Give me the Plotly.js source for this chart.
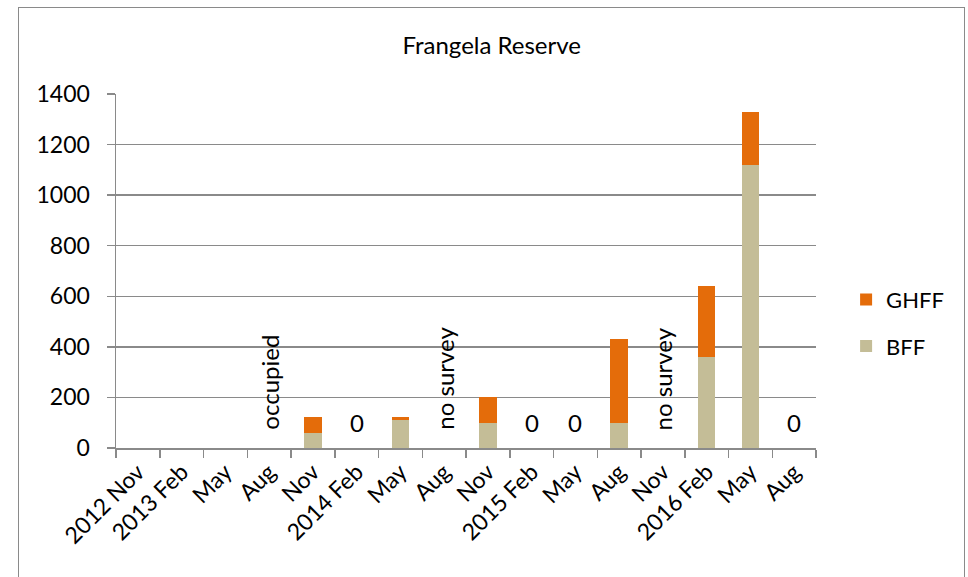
<!DOCTYPE html>
<html>
<head>
<meta charset="utf-8">
<script src="https://cdn.plot.ly/plotly-3.0.1.min.js"></script>
<style>
  html, body { margin: 0; padding: 0; background: #fff; }
  #chart { width: 968px; height: 577px; }
  #frame { position: absolute; left: 18px; top: 7px; width: 945px; height: 620px;
           border: 1.5px solid #8a8a8a; pointer-events: none; }
</style>
</head>
<body>
<div id="chart"></div>
<div id="frame"></div>
<script>
const categories = ['2012 Nov','2013 Feb','2013 May','2013 Aug','2013 Nov','2014 Feb','2014 May','2014 Aug',
                    '2014 Nov','2015 Feb','2015 May','2015 Aug','2015 Nov','2016 Feb','2016 May','2016 Aug'];
const tickLabels = ['2012 Nov','2013 Feb','May','Aug','Nov','2014 Feb','May','Aug',
                    'Nov','2015 Feb','May','Aug','Nov','2016 Feb','May','Aug'];
const bffValues  = [null, null, null, null, 60, 0, 112, null, 98, 0, 0, 98, null, 358, 1118, 0];
const ghffValues = [null, null, null, null, 62, 0, 12, null, 102, 0, 0, 332, null, 282, 212, 0];
const noteCats  = ['2013 Aug','2014 Feb','2014 Aug','2015 Feb','2015 May','2015 Nov','2016 Aug'];
const noteTexts = ['occupied','0','no survey','0','0','no survey','0'];
const yTicks = [0, 200, 400, 600, 800, 1000, 1200, 1400];

const FONT = 'Lato, "Open Sans", sans-serif';

const traces = [
  { type: 'bar', name: 'BFF', x: categories, y: bffValues, legendrank: 2, legendgroup: 'bff',
    marker: { color: '#c4bd97' } },
  { type: 'bar', name: 'GHFF', x: categories, y: ghffValues, legendrank: 1, legendgroup: 'ghff',
    marker: { color: '#e46c0a' } }
];

const annotations = noteCats.map((c, i) => {
  const rotated = noteTexts[i].length > 1;
  return {
    x: c, y: 0, xref: 'x', yref: 'y', text: noteTexts[i], showarrow: false,
    textangle: rotated ? -90 : 0,
    yanchor: rotated ? 'bottom' : 'middle',
    yshift: rotated ? 16 : 26,
    font: { family: FONT, size: 24, color: '#000' }
  };
});

const layout = {
  width: 968, height: 577,
  margin: { l: 115.6, r: 152, t: 94, b: 129.3, pad: 0 },
  paper_bgcolor: '#fff', plot_bgcolor: '#fff',
  barmode: 'stack', bargap: 0.6,
  showlegend: true,
  title: { text: 'Frangela Reserve', xref: 'container', yref: 'container',
           x: 0.508, y: 1 - 46/577, xanchor: 'center', yanchor: 'middle',
           font: { family: FONT, size: 24, color: '#000' } },
  font: { family: FONT, color: '#000' },
  xaxis: {
    type: 'category', tickmode: 'array', tickvals: categories, ticktext: tickLabels,
    tickangle: -45, tickson: 'boundaries', ticks: 'outside', ticklen: 8, tickwidth: 1.5,
    tickcolor: '#8a8a8a', showline: true, linecolor: '#8a8a8a', linewidth: 1.5,
    showgrid: false, tickfont: { family: FONT, size: 23, color: '#000' },
    range: [-0.5, 15.5], fixedrange: true
  },
  yaxis: {
    range: [0, 1400], tickmode: 'array', tickvals: yTicks,
    ticks: 'outside', ticklen: 8, tickwidth: 1.5, tickcolor: '#8a8a8a',
    showline: true, linecolor: '#8a8a8a', linewidth: 1.5,
    showgrid: true, gridcolor: '#8a8a8a', gridwidth: 1.5, zeroline: false,
    tickfont: { family: FONT, size: 23, color: '#000' }, ticklabelstandoff: 12
  },
  legend: { x: 1.043, xanchor: 'left', y: 0.3526, yanchor: 'middle',
            traceorder: 'grouped', tracegroupgap: 15,
            font: { family: FONT, size: 22, color: '#000' }, bgcolor: 'rgba(0,0,0,0)' },
  annotations: annotations
};

Plotly.newPlot('chart', traces, layout, { staticPlot: true, displayModeBar: false });
</script>
</body>
</html>
